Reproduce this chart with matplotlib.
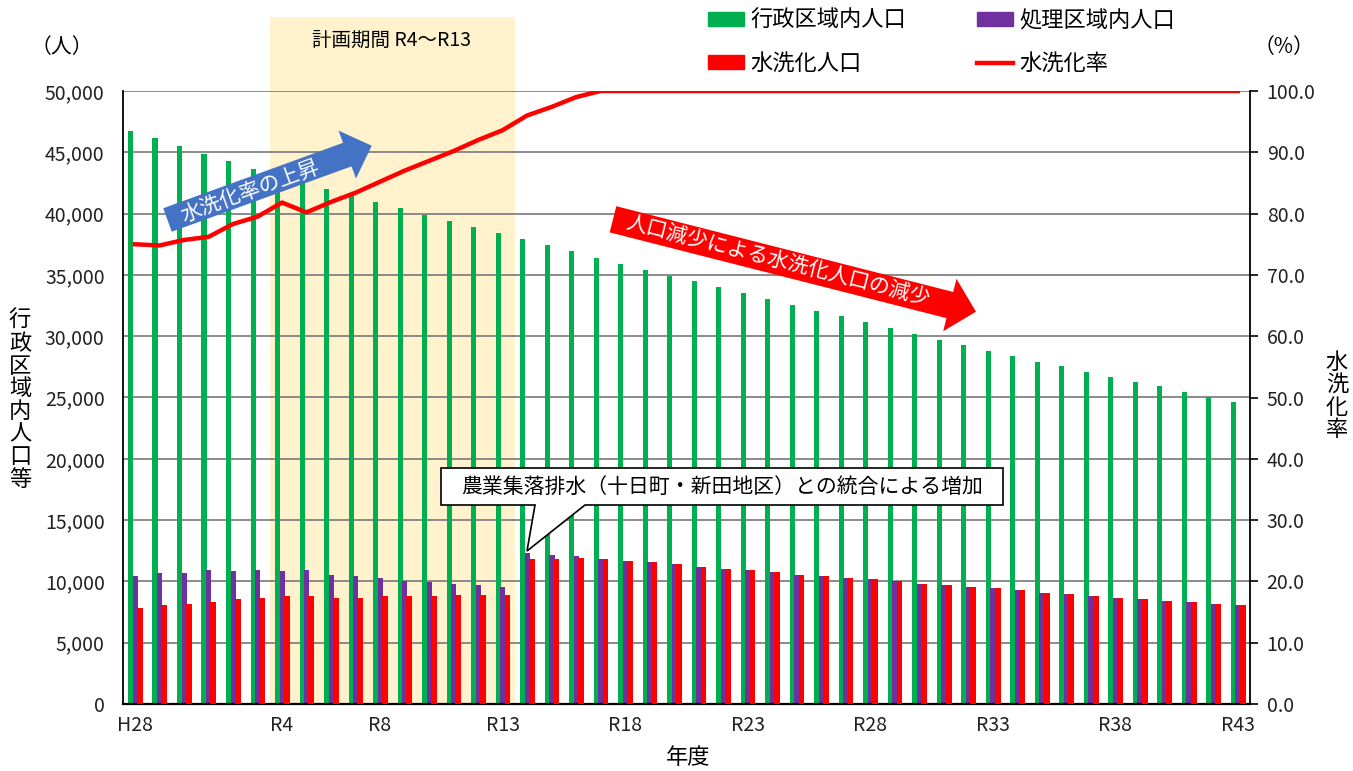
import numpy as np
import matplotlib
matplotlib.use('Agg')
import matplotlib.pyplot as plt
from matplotlib.patches import Polygon, Patch
from matplotlib.lines import Line2D
from matplotlib.ticker import FuncFormatter, MultipleLocator

plt.rcParams['font.family'] = ['Noto Sans CJK JP', 'DejaVu Sans']

W, H = 1353, 771

# categories (fiscal years)
years = ['H28', 'H29', 'H30'] + ['R%d' % i for i in range(1, 44)]
tick_years = ['H28', 'R4', 'R8', 'R13', 'R18', 'R23', 'R28', 'R33', 'R38', 'R43']

# 行政区域内人口
admin_pop = [46760, 46140, 45510, 44860, 44290, 43660, 43100, 42550, 42030, 41490,
             40920, 40430, 39910, 39420, 38930, 38410, 37900, 37410, 36920, 36400,
             35910, 35420, 34940, 34530, 34040, 33550, 33030, 32540, 32060, 31650,
             31160, 30670, 30180, 29670, 29280, 28790, 28410, 27920, 27540, 27050,
             26670, 26290, 25910, 25420, 25040, 24660]
# 処理区域内人口
service_pop = [10440, 10690, 10690, 10930, 10820, 10930, 10820, 10930, 10550, 10440,
               10300, 10060, 9920, 9810, 9680, 9540, 12290, 12150, 12040, 11800,
               11660, 11560, 11420, 11170, 11040, 10930, 10790, 10550, 10440, 10280,
               10170, 10060, 9810, 9680, 9540, 9430, 9300, 9050, 8940, 8810,
               8670, 8540, 8430, 8320, 8180, 8050]
# 水洗化人口
flush_pop = [7800, 8050, 8180, 8320, 8540, 8670, 8780, 8780, 8670, 8670,
             8780, 8780, 8780, 8920, 8920, 8920, 11800, 11800, 11930, 11800,
             11660, 11560, 11420, 11170, 11040, 10930, 10790, 10550, 10440, 10280,
             10170, 10060, 9810, 9680, 9540, 9430, 9300, 9050, 8940, 8810,
             8670, 8540, 8430, 8320, 8180, 8050]
# 水洗化率 (%)
flush_rate = [75.0, 74.8, 75.7, 76.2, 78.3, 79.5, 81.8, 80.2, 81.9, 83.4,
              85.2, 87.0, 88.6, 90.2, 92.0, 93.6, 96.0, 97.4, 99.0, 100.0,
              100.0, 100.0, 100.0, 100.0, 100.0, 100.0, 100.0, 100.0, 100.0, 100.0,
              100.0, 100.0, 100.0, 100.0, 100.0, 100.0, 100.0, 100.0, 100.0, 100.0,
              100.0, 100.0, 100.0, 100.0, 100.0, 100.0]

plan_start, plan_end = 'R4', 'R13'

GREEN = '#00B050'
PURPLE = '#7030A0'
RED = '#FF0000'
BLUE = '#4472C4'
SHADE = '#FFF2CC'


def fx(x, y):
    # image pixel (y down) -> figure fraction
    return (x / W, 1 - y / H)


def block_arrow(tail, tip, body_w, head_w, head_len):
    p0 = np.array(tail, float)
    p1 = np.array(tip, float)
    u = (p1 - p0) / np.hypot(*(p1 - p0))
    n = np.array([-u[1], u[0]])
    base = p1 - u * head_len
    pts = [p0 + n * body_w / 2, base + n * body_w / 2, base + n * head_w / 2, p1,
           base - n * head_w / 2, base - n * body_w / 2, p0 - n * body_w / 2]
    return [fx(*p) for p in pts]


def angle(tail, tip):
    return np.degrees(np.arctan2(-(tip[1] - tail[1]), tip[0] - tail[0]))


fig = plt.figure(figsize=(W / 100, H / 100), dpi=100)
ax_l, ax_r, ax_t, ax_b = 122.7, 1250, 91, 704
ax = fig.add_axes([ax_l / W, 1 - ax_b / H, (ax_r - ax_l) / W, (ax_b - ax_t) / H])

x = np.arange(len(years))

# planning period shading (goes above the plot area)
i0 = years.index(plan_start) - 0.5
i1 = years.index(plan_end) + 0.5
ax.axvspan(i0, i1, ymin=0, ymax=(ax_b - 17) / (ax_b - ax_t), color=SHADE,
           zorder=0, clip_on=False, lw=0)

ax.bar(x - 0.18, admin_pop, width=0.21, color=GREEN, zorder=2)
ax.bar(x + 0.01, service_pop, width=0.22, color=PURPLE, zorder=2)
ax.bar(x + 0.2, flush_pop, width=0.24, color=RED, zorder=3)

ax.set_xlim(-0.5, len(years) - 0.5)
ax.set_ylim(0, 50000)
ax.yaxis.set_major_locator(MultipleLocator(5000))
ax.yaxis.set_major_formatter(FuncFormatter(lambda v, p: f'{int(v):,}'))
ax.yaxis.grid(True, color='#8a8a8a', lw=1.4)
ax.set_axisbelow(True)
ax.set_xticks([years.index(t) for t in tick_years])
ax.set_xticklabels(tick_years)
ax.tick_params(axis='y', length=0, pad=13, labelsize=14, labelcolor='#222222')
ax.tick_params(axis='x', length=0, pad=8, labelsize=14, labelcolor='#222222')
for s in ['top', 'right']:
    ax.spines[s].set_visible(False)
ax.spines['left'].set_linewidth(1.3)
ax.spines['bottom'].set_linewidth(1.6)

ax2 = ax.twinx()
ax2.set_ylim(0, 100)
ax2.yaxis.set_major_locator(MultipleLocator(10))
ax2.yaxis.set_major_formatter(FuncFormatter(lambda v, p: f'{v:.1f}'))
ax2.plot(x, flush_rate, color=RED, lw=3.2, solid_joinstyle='round', zorder=4)
ax2.tick_params(axis='y', length=6, width=1.2, pad=6, labelsize=14, labelcolor='#222222')
for s in ['top', 'left', 'bottom']:
    ax2.spines[s].set_visible(False)
ax2.spines['right'].set_linewidth(1.3)

# axis titles
fig.text(*fx(62, 47), '（人）', ha='center', va='center', fontsize=15)
fig.text(*fx(1284, 47), '（%）', ha='center', va='center', fontsize=15)
fig.text(*fx(20, 400), '\n'.join('行政区域内人口等'), ha='center', va='center',
         fontsize=16, linespacing=0.98)
fig.text(*fx(1337, 396), '\n'.join('水洗化率'), ha='center', va='center',
         fontsize=16, linespacing=0.98)
fig.text(*fx(688, 757), '年度', ha='center', va='center', fontsize=16)
fig.text(*fx(392, 40), '計画期間 R4～R13', ha='center', va='center', fontsize=14)

# legend
handles = [Patch(color=GREEN), Patch(color=RED), Patch(color=PURPLE),
           Line2D([], [], color=RED, lw=3.2)]
labels = ['行政区域内人口', '水洗化人口', '処理区域内人口', '水洗化率']
fig.legend(handles, labels, ncol=2, loc='upper left', bbox_to_anchor=fx(708, 9),
           frameon=False, fontsize=16, handlelength=1.6, handleheight=0.6,
           handletextpad=0.3, columnspacing=3.2, labelspacing=0.9,
           borderaxespad=0, borderpad=0)

# arrows
blue_tail, blue_tip = (167.5, 220), (371.7, 145.7)
fig.add_artist(Polygon(block_arrow(blue_tail, blue_tip, 25, 51, 26),
                       closed=True, transform=fig.transFigure, facecolor=BLUE,
                       edgecolor='none', zorder=5))
fig.text(*fx(250, 191), '水洗化率の上昇', color='white', fontsize=15,
         rotation=angle(blue_tail, blue_tip), rotation_mode='anchor',
         ha='center', va='center', zorder=6)

red_tail, red_tip = (613, 219.3), (976, 311.7)
fig.add_artist(Polygon(block_arrow(red_tail, red_tip, 27, 54, 27),
                       closed=True, transform=fig.transFigure, facecolor=RED,
                       edgecolor='none', zorder=5))
fig.text(*fx(778, 261), '人口減少による水洗化人口の減少', color='white', fontsize=15,
         rotation=angle(red_tail, red_tip), rotation_mode='anchor',
         ha='center', va='center', zorder=6)

# callout
callout = [(441, 468), (1003, 468), (1003, 505), (585, 505), (527, 551),
           (535, 505), (441, 505)]
fig.add_artist(Polygon([fx(*p) for p in callout], closed=True,
                       transform=fig.transFigure, facecolor='white',
                       edgecolor='black', lw=1.2, zorder=5))
fig.text(*fx(722, 487), '農業集落排水（十日町・新田地区）との統合による増加',
         ha='center', va='center', fontsize=15, zorder=6)

fig.savefig('out.png', dpi=100)
